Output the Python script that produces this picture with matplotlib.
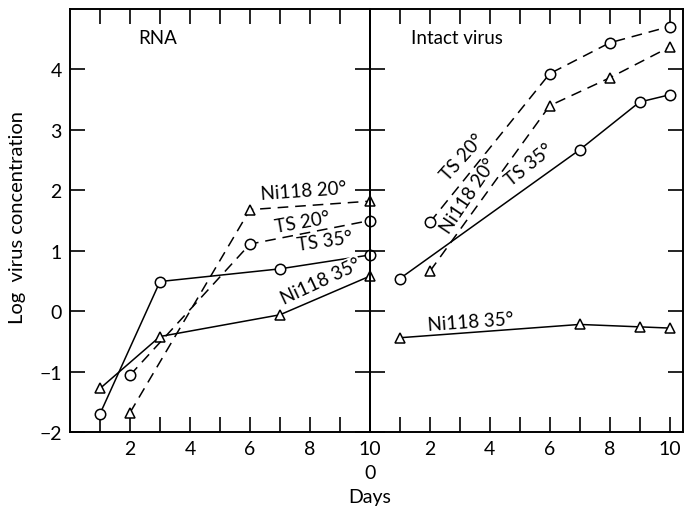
import matplotlib
matplotlib.use("Agg")
from matplotlib import pyplot as plt

plt.rcParams['font.family'] = ['Lato', 'DejaVu Sans']

# RNA panel
rna_ts35_days = [1, 3, 7, 10]
rna_ts35 = [-1.70, 0.49, 0.70, 0.93]
rna_ni35_days = [1, 3, 7, 10]
rna_ni35 = [-1.28, -0.42, -0.06, 0.58]
rna_ts20_days = [2, 6, 10]
rna_ts20 = [-1.06, 1.11, 1.50]
rna_ni20_days = [2, 6, 10]
rna_ni20 = [-1.68, 1.68, 1.82]

# intact virus panel
vir_ts20_days = [2, 6, 8, 10]
vir_ts20 = [1.47, 3.93, 4.44, 4.71]
vir_ni20_days = [2, 6, 8, 10]
vir_ni20 = [0.66, 3.40, 3.86, 4.37]
vir_ts35_days = [1, 7, 9, 10]
vir_ts35 = [0.54, 2.67, 3.46, 3.58]
vir_ni35_days = [1, 7, 9, 10]
vir_ni35 = [-0.44, -0.22, -0.26, -0.28]

yticks = [-2, -1, 0, 1, 2, 3, 4]

fig = plt.figure(figsize=(6.85, 5.10), dpi=100)
ax1 = fig.add_axes([70/685, 1-433/510, 300/685, 423/510])
ax2 = fig.add_axes([370/685, 1-433/510, 313/685, 423/510])
ax2.patch.set_visible(False)  # so the day-10 markers of the RNA panel stay visible

def draw(ax, x, y, marker, dashed):
    kw = dict(color='black', lw=1.1, marker=marker, ms=7.5, mfc='white', mec='black',
              mew=1.1, clip_on=False, zorder=3)
    if dashed:
        ax.plot(x, y, dashes=(7, 4.5), **kw)
    else:
        ax.plot(x, y, **kw)

draw(ax1, rna_ts35_days, rna_ts35, 'o', False)
draw(ax1, rna_ni35_days, rna_ni35, '^', False)
draw(ax1, rna_ts20_days, rna_ts20, 'o', True)
draw(ax1, rna_ni20_days, rna_ni20, '^', True)

draw(ax2, vir_ts20_days, vir_ts20, 'o', True)
draw(ax2, vir_ni20_days, vir_ni20, '^', True)
draw(ax2, vir_ts35_days, vir_ts35, 'o', False)
draw(ax2, vir_ni35_days, vir_ni35, '^', False)

for ax in (ax1, ax2):
    ax.set_ylim(-2, 5)
    ax.set_yticks(yticks)
    for s in ax.spines.values():
        s.set_linewidth(1.4)
    ax.tick_params(direction='in', length=11, width=1.2, top=True, right=True,
                   left=True, bottom=True, labelsize=14, pad=6)

ax1.set_xlim(0, 10)
ax1.set_xticks(range(1, 11))
ax1.set_xticklabels(['' if d % 2 else str(d) for d in range(1, 11)])
ax1.set_yticklabels(['\u22122', '\u22121', '0', '1', '2', '3', '4'])

ax2.set_xlim(0, 10.45)
ax2.set_xticks(range(0, 11))
ax2.set_xticklabels(['' if d % 2 or d == 0 else str(d) for d in range(0, 11)])
ax2.tick_params(labelleft=False)
# day 0 of the second panel sits under the shared border
ax2.text(0, -2.67, '0', fontsize=14, ha='center', va='center')

bb = dict(facecolor='white', edgecolor='none', pad=0.5)
ax1.text(2.93, 4.53, 'RNA', fontsize=13.5, ha='center', va='center')
ax2.text(2.9, 4.53, 'Intact virus', fontsize=13.5, ha='center', va='center')

ax1.text(7.8, 2.0, 'Ni118 20\u00b0', fontsize=13.5, rotation=4, ha='center', va='center', bbox=bb)
ax1.text(7.75, 1.48, 'TS 20\u00b0', fontsize=13.5, rotation=10, ha='center', va='center', bbox=bb)
ax1.text(8.5, 1.16, 'TS 35\u00b0', fontsize=13.5, rotation=8, ha='center', va='center', bbox=bb)
ax1.text(8.35, 0.5, 'Ni118 35\u00b0', fontsize=13.5, rotation=25, ha='center', va='center', bbox=bb)

ax2.text(3.1, 2.55, 'TS 20\u00b0', fontsize=13.5, rotation=48, ha='center', va='center', bbox=bb)
ax2.text(3.3, 1.92, 'Ni118 20\u00b0', fontsize=13.5, rotation=56, ha='center', va='center', bbox=bb)
ax2.text(5.3, 2.43, 'TS 35\u00b0', fontsize=13.5, rotation=39, ha='center', va='center', bbox=bb)
ax2.text(3.35, -0.17, 'Ni118 35\u00b0', fontsize=13.5, rotation=4, ha='center', va='center', bbox=bb)

fig.text(370/685, 1-498/510, 'Days', fontsize=14, ha='center', va='center')
fig.text(18/685, 1-218/510, 'Log  virus concentration', fontsize=14.5, rotation=90,
         ha='center', va='center')

fig.savefig('out.png', dpi=100)
